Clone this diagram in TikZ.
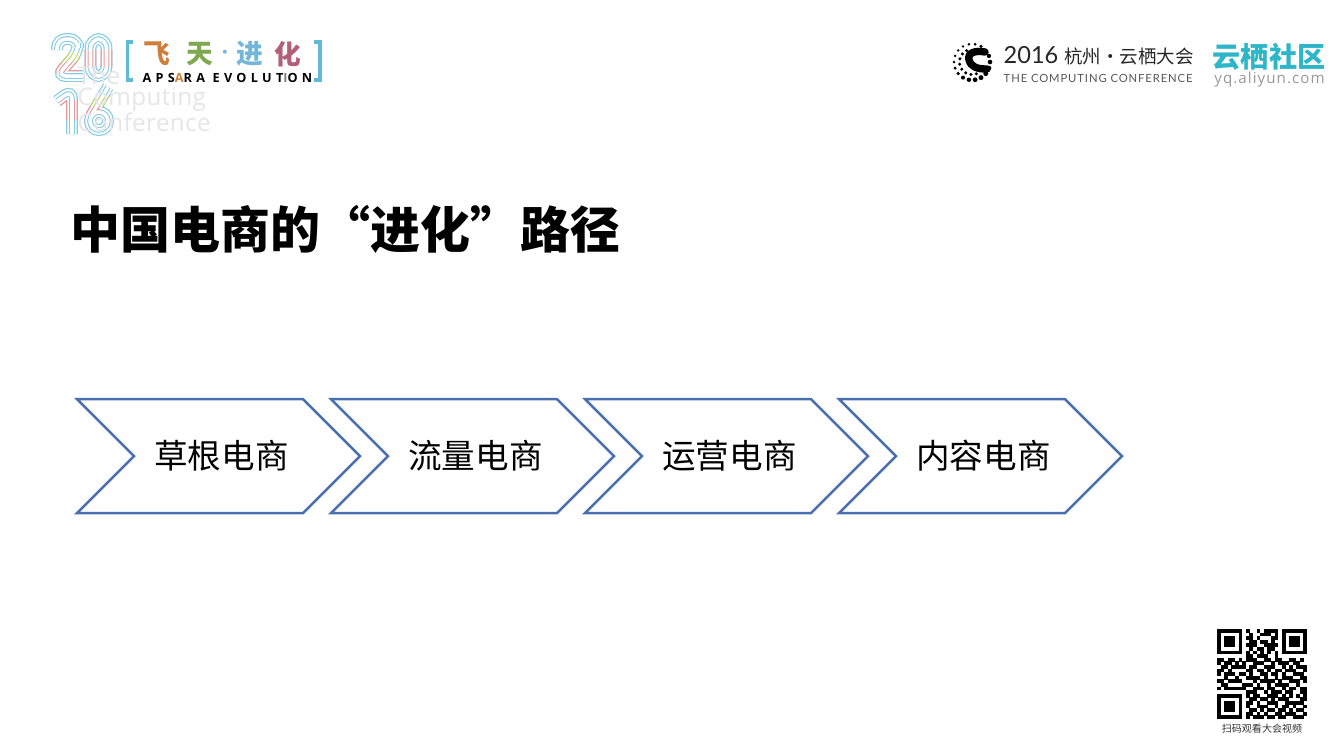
\documentclass[tikz,border=0pt]{standalone}
\usepackage{fontspec}
\setmainfont{Open Sans}
\newfontfamily\cjk{Noto Sans CJK SC}
\newfontfamily\lightsans{Lato}
\definecolor{chevblue}{HTML}{4A6FB0}
\definecolor{logocyan}{HTML}{86CCE6}
\definecolor{logopink}{HTML}{E8979C}
\definecolor{logolime}{HTML}{BCD268}
\definecolor{bracketcyan}{HTML}{5DBBD6}
\definecolor{brandteal}{HTML}{2DB5C8}
\definecolor{logogray}{HTML}{E6E6E6}
\definecolor{feicolor}{HTML}{CF7F3C}
\definecolor{tiancolor}{HTML}{7FA84F}
\definecolor{jincolor}{HTML}{74B6DA}
\definecolor{huacolor}{HTML}{B2607A}
\tikzset{
    chevron/.style={draw=chevblue,line width=0.7pt,line join=miter},
    stagetext/.style={font=\cjk\fontsize{9.55pt}{11pt}\selectfont,inner sep=0pt},
    ghosttext/.style={font=\fontsize{6.9pt}{8pt}\selectfont\addfontfeature{LetterSpace=1.5},text=logogray,anchor=west,inner sep=0pt},
    logochar/.style={font=\cjk\bfseries\fontsize{7.6pt}{9pt}\selectfont,inner sep=0pt},
    bracketline/.style={draw=bracketcyan,line width=1pt}
}
\newcommand{\logostroke}[2]{%
    \foreach \w/\c in {3.4pt/#1,2.7pt/white,1.6pt/#1,1pt/white}{%
        \draw[line width=\w,color=\c,rounded corners=2.6pt] #2;}}
\newcount\qrcol
\newcommand{\qrscan}[1]{%
    \ifx#1;\else
        \if#11\fill (1217+3.6*\the\qrcol,629+3.6*\j) rectangle ++(3.7,3.7);\fi
        \advance\qrcol by 1
        \expandafter\qrscan
    \fi}
\begin{document}
\begin{tikzpicture}[x=0.01cm,y=-0.01cm]
    \useasboundingbox[fill=white] (0,0) rectangle (1333,750);
    %% logo digits
    \newcommand{\twopath}{(57,50) -- (57,39) -- (78,39) -- (78,52) -- (57,76) -- (83,76)}
    \newcommand{\zeropath}{(90.5,39) -- (106.5,39) -- (106.5,76) -- (90.5,76) -- cycle}
    \newcommand{\onepath}{(57,101) -- (72,90) -- (72,134)}
    \newcommand{\sixpath}{(108,87) -- (91,116) (99,121) circle[radius=9]}
    \logostroke{logocyan}{\twopath}
    \logostroke{logocyan}{\zeropath}
    \logostroke{logocyan}{\onepath}
    \logostroke{logocyan}{\sixpath}
    \begin{scope}
        \clip (80,50) rectangle (115,66);
        \logostroke{logopink}{\zeropath}
    \end{scope}
    \begin{scope}
        \clip (52,52) rectangle (80,62);
        \logostroke{logolime}{\twopath}
    \end{scope}
    \begin{scope}
        \clip (52,62) rectangle (80,72);
        \logostroke{logopink}{\twopath}
    \end{scope}
    \begin{scope}
        \clip (60,100) rectangle (80,119);
        \logostroke{logopink}{\onepath}
    \end{scope}
    \begin{scope}
        \clip (85,96) rectangle (113,106);
        \logostroke{logolime}{\sixpath}
    \end{scope}
    \begin{scope}
        \clip (85,106) rectangle (100,113);
        \logostroke{logopink}{\sixpath}
    \end{scope}
    %% ghost words
    \node[ghosttext] (ghostthe) at (77,75) {The};
    \node[ghosttext] (ghostcomputing) at (77,99) {Computing};
    \node[ghosttext] (ghostconference) at (77,122) {Conference};
    %% logo title
    \draw[bracketline] (133,42) -- (127.5,42) -- (127.5,80) -- (133,80);
    \draw[bracketline] (314,42) -- (320,42) -- (320,80) -- (314,80);
    \node[logochar,text=feicolor] (feichar) at (157,54) {飞};
    \node[logochar,text=tiancolor] (tianchar) at (200,54) {天};
    \node[logochar,text=jincolor,font=\cjk\bfseries\fontsize{4pt}{5pt}\selectfont] (dotchar) at (225,54) {·};
    \node[logochar,text=jincolor] (jinchar) at (250,54) {进};
    \node[logochar,text=huacolor] (huachar) at (288,54) {化};
    \node[font=\bfseries\fontsize{3.6pt}{4pt}\selectfont,inner sep=0pt,anchor=west] (apsara) at (142,77.5)
        {\addfontfeature{LetterSpace=34}APS\textcolor{feicolor}{A}RA EVOLUT\textcolor{gray}{I}ON};
    %% dots logo
    \foreach \a in {0,20,...,340}
        \fill ({972+18*cos(\a)},{62+18*sin(\a)}) circle[radius={1.3+0.6*(1+sin(\a+45))}];
    \foreach \a in {70,95,...,245}
        \fill ({972+12.5*cos(\a)},{62+12.5*sin(\a)}) circle[radius=1.7];
    \draw[line width=2.1pt,line cap=round] (985,52) .. controls (975,50) and (967,53) .. (969,60)
        .. controls (971,67) and (977,69) .. (987,69);
    %% conference name
    \node[font=\lightsans\fontsize{6.7pt}{8pt}\selectfont,anchor=west,inner sep=0pt,text=black!85] (confname) at (1003,56)
        {2016 {\cjk\fontsize{5.25pt}{7pt}\selectfont 杭州·云栖大会}};
    \node[font=\lightsans\fontsize{3.2pt}{4pt}\selectfont,anchor=west,inner sep=0pt,text=black!65] (confenglish) at (1003,78)
        {\addfontfeature{LetterSpace=8}THE COMPUTING CONFERENCE};
    %% community name
    \node[font=\cjk\bfseries\fontsize{8pt}{9pt}\selectfont,text=brandteal,inner sep=0pt] (commname) at (1269,57) {云栖社区};
    \node[font=\fontsize{4.3pt}{5pt}\selectfont,text=black!40,inner sep=0pt] (commurl) at (1269.5,80)
        {\addfontfeature{LetterSpace=7}yq.aliyun.com};
    %% title
    \node[font=\cjk\bfseries\fontsize{14.2pt}{16pt}\selectfont,anchor=west,inner sep=0pt] (title) at (70,229)
        {中国电商的“进化”路径};
    %% chevrons
    \foreach \i/\x/\label in {1/77/草根电商,2/331/流量电商,3/585/运营电商,4/839/内容电商}{
        \draw[chevron] (\x,399) -- ++(226,0) -- ++(57,57) -- ++(-57,57) -- ++(-226,0) -- ++(57,-57) -- cycle;
        \node[stagetext] (stage\i) at (\x+144.5,456) {\label};
    }
    %% qr code
    \foreach \rowbits [count=\j from 0] in {
        1111111010010111101111111,
        1000001001001110101000001,
        1011101011010001101011101,
        1011101001101101001011101,
        1011101011100111101011101,
        1000001001011011001000001,
        1111111010101010101111111,
        0000000011011100100000000,
        1101101011100110110011010,
        1011010100111001011101100,
        0110111101100111001010111,
        1101000011011010110111001,
        1011101101001101101001110,
        0010010011110100101110011,
        1101111000101111010011101,
        0110000111010010111100100,
        1011111100111011001011011,
        0000000011100101110110011,
        1111111010110011101010101,
        1000001001101101011100011,
        1011101011010011100111110,
        1011101010011100101101001,
        1011101001101011011010110,
        1000001011010100110111001,
        1111111010111011011001110}{
        \qrcol=0
        \expandafter\qrscan\rowbits;
    }
    \node[font=\cjk\fontsize{2.85pt}{3pt}\selectfont,inner sep=0pt,text=black!80] (qrcaption) at (1262,729) {扫码观看大会视频};
\end{tikzpicture}
\end{document}
